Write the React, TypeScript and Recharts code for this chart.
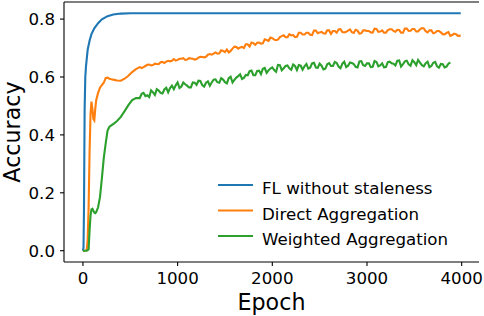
import React from 'react';
import { LineChart, Line, XAxis, YAxis, Legend, ReferenceLine } from 'recharts';

const epochs = [
  0, 20, 40, 50, 60, 70, 80, 90, 100, 110, 120, 130, 140, 160, 180, 200, 220, 240, 260, 280, 300, 330, 360, 400, 440, 480, 520, 560,
  600, 640, 680, 720, 760, 800, 840, 880, 920, 960,
  1000, 1040, 1080, 1120, 1160, 1200, 1240, 1280, 1320, 1360, 1400, 1440, 1480, 1520, 1560, 1600, 1640, 1680, 1720, 1760, 1800, 1840, 1880, 1920, 1960,
  2000, 2040, 2080, 2120, 2160, 2200, 2240, 2280, 2320, 2360, 2400, 2440, 2480, 2520, 2560, 2600, 2640, 2680, 2720, 2760, 2800, 2840, 2880, 2920, 2960,
  3000, 3040, 3080, 3120, 3160, 3200, 3240, 3280, 3320, 3360, 3400, 3440, 3480, 3520, 3560, 3600, 3640, 3680, 3720, 3760, 3800, 3840, 3880, 3920, 3960,
  3990,
];

const midEpochs = [
  620, 660, 700, 740, 780, 820, 860, 900, 940, 980,
  1020, 1060, 1100, 1140, 1180, 1220, 1260, 1300, 1340, 1380, 1420, 1460, 1500, 1540, 1580, 1620, 1660, 1700, 1740, 1780, 1820, 1860, 1900, 1940, 1980,
  2020, 2060, 2100, 2140, 2180, 2220, 2260, 2300, 2340, 2380, 2420, 2460, 2500, 2540, 2580, 2620, 2660, 2700, 2740, 2780, 2820, 2860, 2900, 2940, 2980,
  3020, 3060, 3100, 3140, 3180, 3220, 3260, 3300, 3340, 3380, 3420, 3460, 3500, 3540, 3580, 3620, 3660, 3700, 3740, 3780, 3820, 3860, 3900, 3940,
];

const directAcc = [
  0, 0, 0.002, 0.04, 0.15, 0.34, 0.47, 0.515, 0.49, 0.455, 0.45, 0.49, 0.52, 0.545, 0.563, 0.572, 0.58, 0.596, 0.598, 0.594, 0.592, 0.59, 0.588, 0.587, 0.594, 0.604, 0.617, 0.627,
  0.634, 0.634, 0.642, 0.640, 0.646, 0.644, 0.652, 0.653, 0.654, 0.662,
  0.659, 0.663, 0.659, 0.665, 0.663, 0.662, 0.670, 0.668, 0.677, 0.677, 0.685, 0.682, 0.690, 0.695, 0.690, 0.705, 0.698, 0.704, 0.713, 0.705, 0.717, 0.718, 0.715, 0.730, 0.725,
  0.734, 0.727, 0.738, 0.744, 0.737, 0.744, 0.738, 0.753, 0.747, 0.753, 0.746, 0.760, 0.751, 0.756, 0.750, 0.761, 0.759, 0.753, 0.765, 0.754, 0.760, 0.755, 0.763, 0.750, 0.761,
  0.759, 0.754, 0.767, 0.756, 0.761, 0.753, 0.765, 0.759, 0.763, 0.753, 0.767, 0.759, 0.766, 0.757, 0.765, 0.768, 0.754, 0.761, 0.753, 0.759, 0.748, 0.752, 0.742, 0.750, 0.742,
  0.743,
];

const directAccMid = [
  0.631, 0.638, 0.643, 0.641, 0.645, 0.651, 0.648, 0.656, 0.656, 0.657,
  0.663, 0.665, 0.660, 0.664, 0.660, 0.667, 0.669, 0.670, 0.679, 0.681, 0.681, 0.692, 0.686, 0.685, 0.698, 0.704, 0.702, 0.700, 0.713, 0.719, 0.711, 0.719, 0.716, 0.728, 0.736,
  0.729, 0.729, 0.741, 0.737, 0.748, 0.745, 0.739, 0.753, 0.747, 0.753, 0.745, 0.760, 0.754, 0.751, 0.761, 0.749, 0.759, 0.764, 0.755, 0.756, 0.764, 0.752, 0.760, 0.751, 0.761,
  0.759, 0.753, 0.766, 0.757, 0.753, 0.762, 0.765, 0.756, 0.762, 0.753, 0.767, 0.760, 0.766, 0.757, 0.769, 0.758, 0.761, 0.751, 0.759, 0.754, 0.747, 0.755, 0.745, 0.748,
];

const weightedAcc = [
  0, 0, 0, 0.002, 0.005, 0.07, 0.12, 0.143, 0.145, 0.138, 0.132, 0.13, 0.133, 0.15, 0.185, 0.25, 0.32, 0.37, 0.415, 0.428, 0.433, 0.44, 0.448, 0.462, 0.482, 0.503, 0.52, 0.527,
  0.527, 0.545, 0.537, 0.554, 0.538, 0.553, 0.543, 0.563, 0.562, 0.558,
  0.581, 0.567, 0.575, 0.564, 0.581, 0.573, 0.586, 0.567, 0.585, 0.581, 0.592, 0.580, 0.591, 0.578, 0.601, 0.590, 0.603, 0.593, 0.607, 0.620, 0.606, 0.621, 0.610, 0.631, 0.623,
  0.633, 0.618, 0.641, 0.630, 0.640, 0.625, 0.638, 0.641, 0.625, 0.645, 0.632, 0.649, 0.632, 0.639, 0.629, 0.648, 0.638, 0.648, 0.630, 0.653, 0.639, 0.648, 0.635, 0.654, 0.641,
  0.647, 0.634, 0.655, 0.637, 0.647, 0.634, 0.653, 0.646, 0.656, 0.636, 0.654, 0.644, 0.658, 0.641, 0.650, 0.637, 0.653, 0.638, 0.652, 0.632, 0.644, 0.636, 0.650,
];

const weightedAccMid = [
  0.542, 0.534, 0.531, 0.547, 0.558, 0.545, 0.557, 0.547, 0.570, 0.571,
  0.562, 0.581, 0.570, 0.564, 0.580, 0.587, 0.572, 0.580, 0.570, 0.591, 0.582, 0.596, 0.582, 0.596, 0.581, 0.598, 0.609, 0.597, 0.606, 0.622, 0.606, 0.622, 0.628, 0.614, 0.629,
  0.624, 0.642, 0.623, 0.638, 0.630, 0.643, 0.624, 0.639, 0.637, 0.629, 0.647, 0.633, 0.646, 0.626, 0.644, 0.638, 0.652, 0.636, 0.646, 0.634, 0.650, 0.645, 0.633, 0.655, 0.638,
  0.647, 0.635, 0.652, 0.640, 0.633, 0.651, 0.647, 0.640, 0.657, 0.644, 0.656, 0.639, 0.651, 0.659, 0.641, 0.648, 0.634, 0.649, 0.637, 0.645, 0.633, 0.646,
];

const baseEpochs = [0, 6, 11, 18, 25, 32, 50, 70, 90, 120, 160, 200, 260, 320, 400, 500, 1000, 2000, 3000, 3990];
const baseAcc = [0, 0.01, 0.14, 0.49, 0.6, 0.636, 0.694, 0.725, 0.748, 0.768, 0.786, 0.799, 0.81, 0.816, 0.819, 0.82, 0.82, 0.82, 0.82, 0.82];

const xTicks = [0, 1000, 2000, 3000, 4000];
const yTicks = [0, 0.2, 0.4, 0.6, 0.8];
const seriesNames = ['FL without staleness', 'Direct Aggregation', 'Weighted Aggregation'];
const seriesColors = ['#1f77b4', '#ff7f0e', '#2ca02c'];

const xDomain: [number, number] = [-200, 4183];
const yDomain: [number, number] = [-0.039, 0.859];

type Row = { epoch: number; acc: number };
const toRows = (xs: number[], ys: number[]): Row[] => ys.map((y, i) => ({ epoch: xs[i], acc: y }));
const mergeRows = (a: Row[], b: Row[]) => [...a, ...b].sort((p, q) => p.epoch - q.epoch);

const baseRows = toRows(baseEpochs, baseAcc);
const directRows = mergeRows(toRows(epochs, directAcc), toRows(midEpochs, directAccMid));
const weightedRows = mergeRows(toRows(epochs, weightedAcc), toRows(midEpochs, weightedAccMid));

const FONT = 'DejaVu Sans';
const tickStyle = { fill: '#000', fontSize: 16.67, fontFamily: FONT };

const renderLegend = (props: any) => {
  const payload = (props && props.payload) || [];
  const items = seriesNames.map((name, i) => {
    const p = payload.find((e: any) => e.value === name);
    return { name, color: (p && p.color) || seriesColors[i] };
  });
  return (
    <svg width={260} height={80} style={{ display: 'block', overflow: 'visible' }}>
      {items.map((it, i) => (
        <g key={it.name}>
          <line x1={8} x2={43} y1={13 + i * 25.5} y2={13 + i * 25.5} stroke={it.color} strokeWidth={2.1} />
          <text x={52} y={22 + i * 25.5} fontSize={16.67} fontFamily={FONT} fill="#000">
            {it.name}
          </text>
        </g>
      ))}
    </svg>
  );
};

export default function App() {
  return (
    <div style={{ position: 'absolute', left: 0, top: 0, width: 484, height: 316, background: '#fff' }}>
      <LineChart
        width={484}
        height={316}
        margin={{ top: 2, right: 5, bottom: 0, left: 0 }}
        style={{ fontFamily: FONT }}
      >
        <XAxis
          dataKey="epoch"
          type="number"
          domain={xDomain}
          ticks={xTicks}
          allowDataOverflow
          height={54}
          tickSize={4}
          tickMargin={6}
          tick={tickStyle}
          axisLine={{ stroke: '#000', strokeWidth: 1.1 }}
          tickLine={{ stroke: '#000', strokeWidth: 1.1 }}
          label={{ value: 'Epoch', position: 'insideBottom', offset: 6, style: { fontSize: 22.2, fill: '#000', fontFamily: FONT } }}
        />
        <YAxis
          type="number"
          domain={yDomain}
          ticks={yTicks}
          allowDataOverflow
          width={64}
          tickSize={4}
          tickMargin={5}
          tick={tickStyle}
          tickFormatter={(v: number) => v.toFixed(1)}
          axisLine={{ stroke: '#000', strokeWidth: 1.1 }}
          tickLine={{ stroke: '#000', strokeWidth: 1.1 }}
          label={{ value: 'Accuracy', angle: -90, position: 'center', dx: -20, style: { fontSize: 22.2, fill: '#000', fontFamily: FONT } }}
        />
        <YAxis
          yAxisId="right"
          orientation="right"
          type="number"
          domain={yDomain}
          allowDataOverflow
          width={0}
          tick={false}
          tickLine={false}
          axisLine={{ stroke: '#000', strokeWidth: 1.1 }}
        />
        <ReferenceLine y={yDomain[1]} stroke="#000" strokeWidth={1.1} />
        <Line
          data={baseRows}
          dataKey="acc"
          name={seriesNames[0]}
          stroke={seriesColors[0]}
          strokeWidth={2.1}
          dot={false}
          activeDot={false}
          type="linear"
          isAnimationActive={false}
        />
        <Line
          data={directRows}
          dataKey="acc"
          name={seriesNames[1]}
          stroke={seriesColors[1]}
          strokeWidth={2.1}
          dot={false}
          activeDot={false}
          type="linear"
          isAnimationActive={false}
        />
        <Line
          data={weightedRows}
          dataKey="acc"
          name={seriesNames[2]}
          stroke={seriesColors[2]}
          strokeWidth={2.1}
          dot={false}
          activeDot={false}
          type="linear"
          isAnimationActive={false}
        />
        <Legend
          layout="vertical"
          align="center"
          verticalAlign="middle"
          wrapperStyle={{ left: 210, top: 172, width: 260, height: 80 }}
          content={renderLegend}
        />
      </LineChart>
    </div>
  );
}
